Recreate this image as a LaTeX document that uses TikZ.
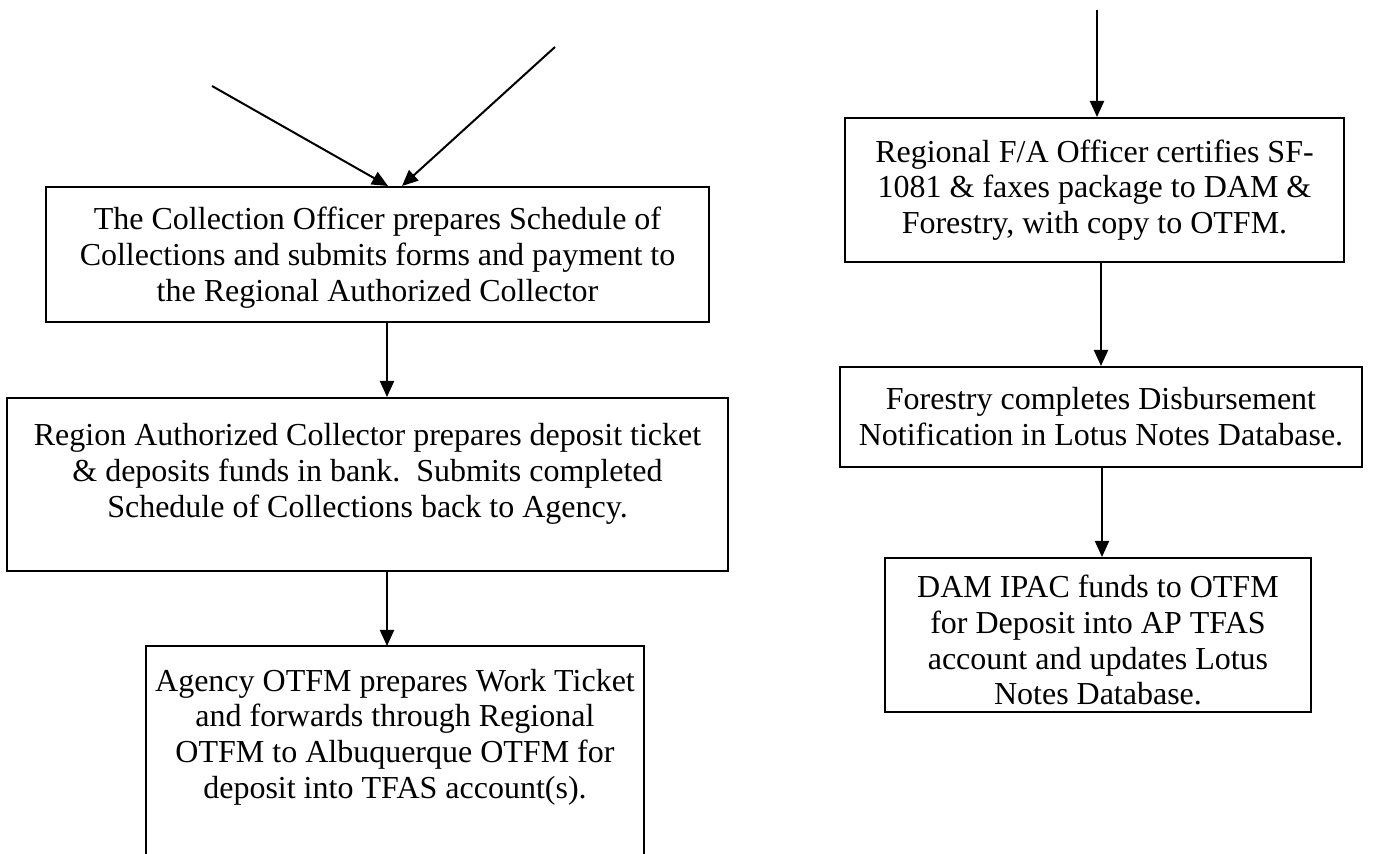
\documentclass[tikz,border=0pt]{standalone}
\usepackage{fontspec}
\setmainfont{Liberation Serif}
\usetikzlibrary{arrows.meta,positioning}

\begin{document}
\begin{tikzpicture}[x=0.5pt,y=-0.5pt,>={Triangle[length=8pt,width=7pt]},
    stepbox/.style={draw,line width=1pt,align=center,inner sep=4pt,
      font=\fontsize{16}{17.9}\selectfont},
    flow/.style={->,line width=1pt}]
  \clip (0,0) rectangle (1373,854);

  \node[stepbox,minimum width=331.5pt,minimum height=67.5pt] (collect) at (377.5,254.5)
    {\rule{0pt}{14.4pt}The Collection Officer prepares Schedule of\\Collections and submits forms and payment to\\the Regional Authorized Collector};
  \node[stepbox,minimum width=360.5pt,minimum height=86.5pt] (deposit) at (367.5,484.5)
    {Region Authorized Collector prepares deposit ticket\\\& deposits funds in bank.\ \ Submits completed\\Schedule of Collections back to Agency.\rule[-14pt]{0pt}{0pt}};
  \node[stepbox,draw=none,anchor=north,minimum width=248pt,inner ysep=11pt] (ticket) at (395,646)
    {Agency OTFM prepares Work Ticket\\and forwards through Regional\\OTFM to Albuquerque OTFM for\\deposit into TFAS account(s).};
  \coordinate (pagebottom) at (0,870);
  \draw[line width=1pt] (ticket.north west |- pagebottom) -- (ticket.north west)
    -- (ticket.north east) -- (ticket.north east |- pagebottom);

  \node[stepbox,minimum width=249.5pt,minimum height=72pt] (certify) at (1094.5,190)
    {Regional F/A Officer certifies SF-\\1081 \& faxes package to DAM \&\\Forestry, with copy to OTFM.};
  \node[stepbox,minimum width=261pt,minimum height=50pt] (notify) at (1101,417)
    {Forestry completes Disbursement\\Notification in Lotus Notes Database.};
  \node[stepbox,minimum width=213pt,minimum height=77pt,inner ysep=3pt] (ipac) at (1098,635)
    {\rule{0pt}{16.5pt}DAM IPAC funds to OTFM\\for Deposit into AP TFAS\\account and updates Lotus\\Notes Database.};

  \coordinate (fromL) at (212,86);
  \coordinate (fromR) at (555,47);
  \coordinate (fromTop) at (1097,10);
  \draw[flow] (fromL) -- ([xshift=5.25pt]collect.north);
  \draw[flow] (fromR) -- ([xshift=12.25pt]collect.north);
  \draw[flow] ([xshift=4.75pt]collect.south) -- ([xshift=4.75pt]collect.south |- deposit.north);
  \draw[flow] ([xshift=9.75pt]deposit.south) -- ([xshift=9.75pt]deposit.south |- ticket.north);
  \draw[flow] (fromTop) -- (fromTop |- certify.north);
  \draw[flow] ([xshift=3.25pt]certify.south) -- ([xshift=3.25pt]certify.south |- notify.north);
  \draw[flow] ([xshift=0.5pt]notify.south) -- ([xshift=0.5pt]notify.south |- ipac.north);
\end{tikzpicture}
\end{document}
